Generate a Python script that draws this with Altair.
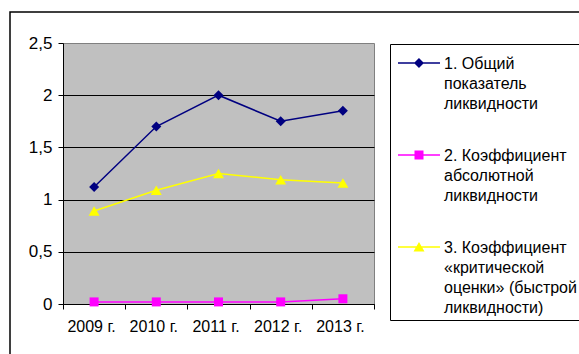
import altair as alt
import pandas as pd

# Liquidity indicators by year
years = [2009, 2010, 2011, 2012, 2013]
series_names = [
    "1. Общий\nпоказатель\nликвидности",
    "2. Коэффициент\nабсолютной\nликвидности",
    "3. Коэффициент\n«критической\nоценки» (быстрой\nликвидности)",
]
general_ratio = [1.12, 1.70, 2.00, 1.75, 1.85]
absolute_ratio = [0.02, 0.02, 0.02, 0.02, 0.05]
quick_ratio = [0.89, 1.09, 1.25, 1.19, 1.16]

series_colors = ["#000080", "#FF00FF", "#FFFF00"]
plot_shapes = ["diamond", "square", "triangle-up"]
plot_sizes = [100, 81, 120]
# legend keys: a short line with the marker in its middle (unit = 6 px)
legend_shapes = [
    "M-0.667,1.042H6.333V1.292H-0.667Z M2.833,0.333L3.667,1.167L2.833,2L2,1.167Z",
    "M-0.667,1.042H6.333V1.292H-0.667Z M2.083,0.417H3.583V1.917H2.083Z",
    "M-0.667,1.042H6.333V1.292H-0.667Z M2.833,0.333L3.75,1.917H1.917Z",
]

rows = []
for name, values in zip(series_names, [general_ratio, absolute_ratio, quick_ratio]):
    for year, value in zip(years, values):
        rows.append({"year": year, "value": value, "series": name})
df = pd.DataFrame(rows)

FONT = "Liberation Sans"

x_enc = alt.X(
    "year:Q",
    scale=alt.Scale(domain=[2008.5, 2013.5], nice=False, zero=False),
    axis=alt.Axis(
        values=[2008.5, 2009, 2009.5, 2010, 2010.5, 2011, 2011.5, 2012, 2012.5, 2013, 2013.5],
        labelExpr="datum.value % 1 == 0 ? datum.value + ' г.' : ''",
        tickOpacity={"condition": {"test": "datum.value % 1 == 0", "value": 0}, "value": 1},
        tickSize=5,
        tickColor="black",
        domainColor="black",
        grid=False,
        title=None,
        labelOverlap=False,
        labelFlush=False,
        labelPadding=9,
        labelOffset=-3,
        labelFont=FONT,
        labelFontSize=16,
        labelColor="black",
    ),
)
y_enc = alt.Y(
    "value:Q",
    scale=alt.Scale(domain=[0, 2.5], nice=False),
    axis=alt.Axis(
        values=[0, 0.5, 1, 1.5, 2, 2.5],
        labelExpr="replace(format(datum.value, '.1~f'), '.', ',')",
        tickSize=5,
        tickColor="black",
        domainColor="black",
        grid=True,
        gridColor={"condition": {"test": "datum.value >= 2.5", "value": "transparent"}, "value": "black"},
        gridWidth=1,
        title=None,
        labelPadding=6,
        labelFont=FONT,
        labelFontSize=17,
        labelColor="black",
    ),
)
color_scale = alt.Scale(domain=series_names, range=series_colors)

frame = (
    alt.Chart(pd.DataFrame({"k": [0]}))
    .mark_rect(filled=False, color="black", strokeWidth=1.5)
    .encode(x=alt.value(-53), x2=alt.value(540), y=alt.value(-31), y2=alt.value(400))
)

lines = (
    alt.Chart(df)
    .mark_line(strokeWidth=1.5)
    .encode(
        x=x_enc,
        y=y_enc,
        color=alt.Color("series:N", scale=color_scale, legend=None),
        detail="series:N",
    )
)

# one marker layer per series, each with its own marker shape
marker_layers = [
    alt.Chart(df)
    .transform_filter(alt.datum.series == name)
    .mark_point(filled=True, opacity=1, shape=shape, size=size)
    .encode(
        x=x_enc,
        y=y_enc,
        color=alt.Color("series:N", scale=color_scale, legend=None),
    )
    for name, shape, size in zip(series_names, plot_shapes, plot_sizes)
]

key_legend = alt.Legend(
    orient="none",
    legendX=327,
    legendY=1,
    title=None,
    strokeColor="black",
    fillColor="white",
    padding=4,
    rowPadding=28,
    labelExpr="split(datum.label, '\\n')",
    labelBaseline="top",
    labelFont=FONT,
    labelFontSize=16,
    labelColor="black",
    labelLimit=400,
    labelOffset=34,
    symbolSize=144,
    symbolStrokeWidth=0,
    symbolOpacity=1,
)

legend_layer = (
    alt.Chart(df)
    .transform_filter("false")
    .mark_point(filled=True, opacity=1)
    .encode(
        color=alt.Color("series:N", scale=color_scale, legend=key_legend),
        shape=alt.Shape("series:N", scale=alt.Scale(domain=series_names, range=legend_shapes), legend=key_legend),
    )
)

chart = (
    alt.layer(frame, lines, *marker_layers, legend_layer)
    .resolve_scale(color="independent", shape="independent")
    .properties(
        width=311,
        height=261,
        autosize=alt.AutoSizeParams(type="none"),
        padding={"left": 63, "top": 43, "right": 205, "bottom": 50},
        background="white",
        view=alt.ViewBackground(fill="#C0C0C0", stroke="#808080", strokeWidth=1),
    )
    .configure(
        style={"guide-label": {"lineHeight": 20}},
        axisX=alt.AxisConfig(labelFontSize=16, labelFont=FONT),
        axisY=alt.AxisConfig(labelFontSize=17, labelFont=FONT),
    )
)

chart.save("out.html", embed_options={"renderer": "svg", "actions": False})
